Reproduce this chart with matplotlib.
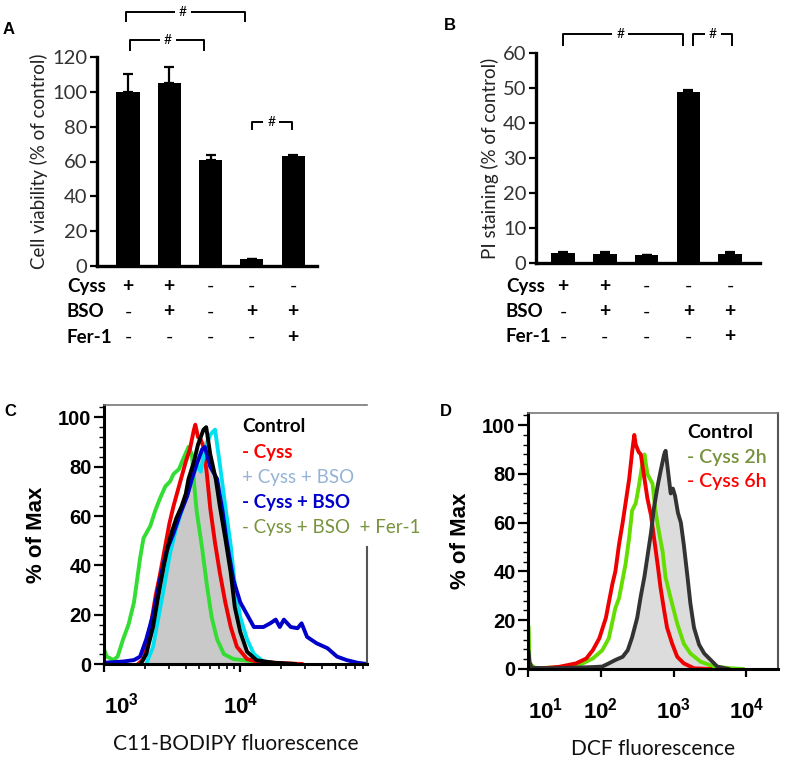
import numpy as np
import matplotlib
matplotlib.use('Agg')
import matplotlib.pyplot as plt
from matplotlib.ticker import MultipleLocator, NullFormatter, LogLocator

plt.rcParams['font.family'] = ['Lato', 'DejaVu Sans']
plt.rcParams['mathtext.fontset'] = 'custom'
plt.rcParams['mathtext.rm'] = 'Liberation Sans'
plt.rcParams['mathtext.bf'] = 'Liberation Sans:bold'

# ---- panel A / B data ----
groups = [0, 1, 2, 3, 4]
cyss_row = ['+', '+', '-', '-', '-']
bso_row = ['-', '+', '-', '+', '+']
fer_row = ['-', '-', '-', '-', '+']

viability = [100, 105, 61, 4, 63]
viability_err = [10, 9, 3, 0.3, 1]

pi_staining = [3.0, 2.5, 2.3, 49, 2.6]
pi_err = [0.2, 0.6, 0.1, 0.4, 0.6]

# ---- panel C data (log10 of fluorescence, % of max) ----
c_ctrl_x = [3.31, 3.36, 3.40, 3.44, 3.48, 3.53, 3.57, 3.61, 3.65, 3.69, 3.73, 3.75, 3.78, 3.82,
            3.85, 3.89, 3.93, 3.96, 4.0, 4.05, 4.12, 4.3]
c_ctrl_y = [0, 8, 20, 32, 44, 54, 61, 68, 76, 84, 90, 92, 85, 74, 62, 49, 35, 21, 11, 4, 1, 0]

c_green_x = [3.0, 3.02, 3.07, 3.10, 3.14, 3.18, 3.22, 3.265, 3.29, 3.34, 3.375, 3.41, 3.45, 3.485,
             3.51, 3.55, 3.58, 3.62, 3.645, 3.66, 3.68, 3.72, 3.755, 3.79, 3.83, 3.88, 3.95,
             4.03, 4.1, 4.2, 4.3]
c_green_y = [6, 3, 1.6, 3, 10, 16, 25, 43, 51, 56, 62, 67, 72, 74, 77, 79, 83, 88, 85, 74, 62,
             47, 32, 19, 10, 4, 2, 1.5, 1, 0.3, 0]

c_red_x = [3.25, 3.29, 3.32, 3.35, 3.38, 3.41, 3.45, 3.48, 3.51, 3.54, 3.57, 3.60, 3.63, 3.66,
           3.67, 3.69, 3.71, 3.73, 3.755, 3.78, 3.815, 3.85, 3.89, 3.93, 3.975, 4.05, 4.12,
           4.25, 4.45]
c_red_y = [0, 2, 8, 18, 28, 36, 48, 57, 64, 70, 76, 82, 87, 95, 97, 92, 91, 88, 77, 63, 49, 37,
           25, 15, 7, 2, 1, 0.5, 0]

c_cyan_x = [3.31, 3.36, 3.40, 3.44, 3.485, 3.53, 3.58, 3.63, 3.68, 3.71, 3.74, 3.78, 3.815,
            3.85, 3.89, 3.93, 3.96, 4.0, 4.05, 4.1, 4.17, 4.3]
c_cyan_y = [0, 7, 19, 31, 45, 55, 64, 72, 81, 78, 87, 93, 95, 81, 64, 48, 32, 19, 10, 4, 1, 0]

c_blue_x = [3.0, 3.14, 3.22, 3.265, 3.31, 3.36, 3.41, 3.46, 3.51, 3.56, 3.61, 3.645, 3.68, 3.72,
            3.74, 3.78, 3.83, 3.87, 3.9, 3.95, 4.0, 4.05, 4.1, 4.17, 4.22, 4.26, 4.29, 4.32,
            4.37, 4.42, 4.45, 4.49, 4.56, 4.64, 4.71, 4.78, 4.86, 4.93]
c_blue_y = [0.5, 1, 1.6, 3, 10, 20, 34, 46, 53, 61, 68, 75, 81, 87, 88, 80, 75, 62, 50, 34, 25,
            20, 15, 15, 16.5, 18, 15, 18, 15, 14.5, 16.5, 11, 8.4, 6.4, 3, 1.6, 0.5, 0]

c_black_x = [3.27, 3.31, 3.36, 3.40, 3.44, 3.47, 3.50, 3.53, 3.57, 3.60, 3.62, 3.66, 3.69, 3.73,
             3.75, 3.78, 3.82, 3.85, 3.89, 3.93, 3.96, 4.0, 4.05, 4.12, 4.25, 4.4]
c_black_y = [0, 4, 15, 28, 40, 48, 54, 59, 64, 69, 75, 82, 89, 95, 96, 85, 75, 64, 51, 37, 23, 13,
             5, 1.5, 0.5, 0]

# ---- panel D data ----
d_ctrl_x = [1.009, 1.02, 1.05, 1.3, 1.6, 1.9, 2.02, 2.11, 2.2, 2.3, 2.37, 2.43, 2.5, 2.55, 2.6,
            2.64, 2.69, 2.73, 2.78, 2.82, 2.87, 2.89, 2.92, 2.96, 2.99, 3.02, 3.06, 3.1, 3.14,
            3.19, 3.23, 3.28, 3.35, 3.42, 3.51, 3.6, 3.75]
d_ctrl_y = [7, 3, 0.5, 0.3, 0.5, 0.8, 1, 2.3, 3.7, 5, 7.7, 13, 21, 30, 38, 46, 56, 66, 75, 81, 88,
            89.5, 82, 72, 74, 71, 64, 60, 51, 38, 27, 17, 10, 6.4, 3.7, 1, 0]

d_green_x = [1.009, 1.02, 1.1, 1.43, 1.7, 1.89, 2.02, 2.11, 2.2, 2.25, 2.34, 2.39, 2.43, 2.48,
             2.52, 2.57, 2.6, 2.64, 2.71, 2.75, 2.8, 2.85, 2.89, 2.96, 3.05, 3.14, 3.23, 3.37,
             3.55, 3.78, 3.95]
d_green_y = [17, 2.3, 0.3, 0.7, 1.6, 4.3, 7.7, 12.6, 25, 29, 43, 54, 65, 68, 74.5, 84, 88, 80,
             76, 65, 56, 48, 37.5, 29, 18.6, 10.4, 6.4, 3, 1, 0.3, 0]

d_red_x = [1.1, 1.43, 1.66, 1.8, 1.89, 1.98, 2.07, 2.16, 2.2, 2.25, 2.3, 2.34, 2.39, 2.43, 2.46,
           2.48, 2.52, 2.55, 2.59, 2.64, 2.69, 2.73, 2.78, 2.82, 2.87, 2.91, 2.98, 3.05, 3.14,
           3.28, 3.5]
d_red_y = [0, 0.9, 2.3, 4.3, 7.7, 12.6, 21, 35, 40, 51, 60, 68, 78, 89, 96, 92, 89, 88, 80, 70,
           63, 54, 43, 33.5, 24, 17, 10.4, 5, 2.3, 0.3, 0]

c_legend = ['Control', '- Cyss', '+ Cyss + BSO', '- Cyss + BSO', '- Cyss + BSO  + Fer-1']
c_legend_colors = ['black', '#ff0000', '#95b3d7', '#0000cc', '#77933c']
c_legend_weights = ['bold', 'bold', 'normal', 'bold', 'normal']
d_legend = ['Control', '- Cyss 2h', '- Cyss 6h']
d_legend_colors = ['black', '#77933c', '#ff0000']

W, H = 787, 761


def px_axes(fig, left, top, right, bottom):
    return fig.add_axes([left / W, (H - bottom) / H, (right - left) / W, (bottom - top) / H])


def bracket(ax, x0, x1, y, h, xt):
    ax.plot([x0, x0, x1, x1], [y - h, y, y, y - h], color='black', lw=1.4, clip_on=False)
    ax.text(xt, y, '#', ha='center', va='center', fontsize=10,
            bbox=dict(fc='white', ec='none', pad=3))


def bar_panel(ax, values, errs, ymax, ystep, ylabel, xlim, label_x, rows_y):
    ax.bar(groups, values, width=0.56, color='black')
    ax.errorbar(groups, values, yerr=[[0] * len(errs), errs], fmt='none', ecolor='black',
                elinewidth=1.6, capsize=3.5, capthick=1.6)
    ax.set_xlim(*xlim)
    ax.set_ylim(0, ymax)
    ax.set_yticks(range(0, ymax + 1, ystep))
    ax.set_xticks([])
    for s in ['top', 'right']:
        ax.spines[s].set_visible(False)
    for s in ['left', 'bottom']:
        ax.spines[s].set_linewidth(2.4)
    ax.tick_params(axis='y', direction='out', length=5, width=1.6, labelsize=14.5,
                   labelcolor='#333333', pad=2)
    ax.set_ylabel(ylabel, fontsize=13.5, color='#222222', labelpad=3)
    tr = ax.get_xaxis_transform()
    for name, row, yy in zip(['Cyss', 'BSO', 'Fer-1'], [cyss_row, bso_row, fer_row], rows_y):
        ax.text(label_x, yy, name, transform=tr, ha='left', va='center', fontsize=13.5,
                fontweight='bold', clip_on=False)
        for g, s in zip(groups, row):
            ax.text(g, yy, s, transform=tr, ha='center', va='center', fontsize=14,
                    fontweight='bold' if s == '+' else 'normal', clip_on=False)


def flow_axes(ax, xmin, xmax, majors, labels):
    ax.set_xscale('log')
    ax.set_xlim(xmin, xmax)
    ax.set_ylim(0, 105)
    ax.set_xticks(majors)
    ax.set_xticklabels(labels)
    ax.xaxis.set_minor_locator(LogLocator(base=10, subs=np.arange(2, 10)))
    ax.xaxis.set_minor_formatter(NullFormatter())
    ax.set_yticks(range(0, 101, 20))
    ax.yaxis.set_minor_locator(MultipleLocator(4))
    ax.tick_params(axis='x', which='major', direction='out', length=6, width=1.6, pad=14,
                   labelsize=16)
    ax.tick_params(axis='x', which='minor', direction='out', length=3.5, width=1.2)
    ax.tick_params(axis='y', which='major', direction='out', length=7, width=1.6, pad=2,
                   labelsize=14.5)
    ax.tick_params(axis='y', which='minor', direction='out', length=3.5, width=1.0)
    for lab in ax.get_yticklabels():
        lab.set_fontfamily('Liberation Sans')
        lab.set_fontweight('bold')
    ax.spines['left'].set_linewidth(2.2)
    ax.spines['bottom'].set_linewidth(2.2)
    ax.spines['top'].set_linewidth(1.2)
    ax.spines['top'].set_color('#777777')
    ax.spines['right'].set_linewidth(1.5)
    ax.spines['right'].set_color('#555555')
    ax.set_ylabel('% of Max', fontsize=16, fontweight='bold', family='Liberation Sans',
                  labelpad=8)
    ax.xaxis.get_majorticklabels()[0].set_horizontalalignment('left')


fig = plt.figure(figsize=(W / 100, H / 100), dpi=100)

# ---------------- A ----------------
axA = px_axes(fig, 97, 57, 317, 266)
bar_panel(axA, viability, viability_err, 120, 20, 'Cell viability (% of control)',
          (-0.75, 4.58), -1.48, [-0.096, -0.22, -0.34])
bracket(axA, -0.05, 2.84, 145.8, 5.2, 1.33)
bracket(axA, 0.05, 1.84, 129.8, 5.5, 0.97)
bracket(axA, 3.0, 3.98, 82.7, 3.8, 3.47)

# ---------------- B ----------------
axB = px_axes(fig, 536, 53, 760, 263)
bar_panel(axB, pi_staining, pi_err, 60, 10, 'PI staining (% of control)',
          (-0.65, 4.72), -1.37, [-0.11, -0.233, -0.352])
bracket(axB, 0.0, 2.87, 65.4, 3.1, 1.37)
bracket(axB, 3.11, 4.05, 65.4, 3.1, 3.59)

# ---------------- C ----------------
axC = px_axes(fig, 104, 405, 367, 664)
axC.fill_between(10 ** np.array(c_ctrl_x), c_ctrl_y, color='#c9c9c9', lw=0)
for xs, ys, col in [(c_green_x, c_green_y, '#33dd33'), (c_red_x, c_red_y, '#ee0000'),
                    (c_cyan_x, c_cyan_y, '#00e0f0'), (c_blue_x, c_blue_y, '#0000c8'),
                    (c_black_x, c_black_y, 'black')]:
    axC.plot(10 ** np.array(xs), ys, color=col, lw=2.8, solid_joinstyle='round')
flow_axes(axC, 1e3, 10 ** 4.93, [1e3, 1e4], [r'$\mathbf{10^{3}}$', r'$\mathbf{10^{4}}$'])
axC.spines['right'].set_bounds(0, 47.5)
axC.set_xlabel('C11-BODIPY fluorescence', fontsize=15, labelpad=12, color='#111111')
for i, (t, c, w) in enumerate(zip(c_legend, c_legend_colors, c_legend_weights)):
    axC.text(242 / W, (H - 427 - 25.2 * i) / H, t, transform=fig.transFigure, color=c,
             fontsize=13.5, fontweight=w, ha='left', va='center')

# ---------------- D ----------------
axD = px_axes(fig, 528, 413, 778, 669)
axD.fill_between(10 ** np.array(d_ctrl_x), d_ctrl_y, color='#dcdcdc', lw=0)
for xs, ys, col in [(d_green_x, d_green_y, '#66dd00'), (d_red_x, d_red_y, '#ee0000'),
                    (d_ctrl_x, d_ctrl_y, '#333333')]:
    axD.plot(10 ** np.array(xs), ys, color=col, lw=2.8, solid_joinstyle='round')
flow_axes(axD, 10 ** 1.009, 10 ** 4.434, [1e1, 1e2, 1e3, 1e4],
          [r'$\mathbf{10^{1}}$', r'$\mathbf{10^{2}}$', r'$\mathbf{10^{3}}$', r'$\mathbf{10^{4}}$'])
axD.set_xlabel('DCF fluorescence', fontsize=15, labelpad=12, color='#111111')
for i, (t, c) in enumerate(zip(d_legend, d_legend_colors)):
    axD.text(687 / W, (H - 432 - 25 * i) / H, t, transform=fig.transFigure, color=c,
             fontsize=14, fontweight='bold' if i == 0 else 'semibold', ha='left', va='center')

# panel letters
for letter, x, y in [('A', 9, 30), ('B', 450, 26), ('C', 10, 412), ('D', 446, 412)]:
    fig.text(x / W, (H - y) / H, letter, fontsize=12, fontweight='bold',
             family='Liberation Sans', ha='center', va='center')

fig.savefig('out.png', dpi=100)
